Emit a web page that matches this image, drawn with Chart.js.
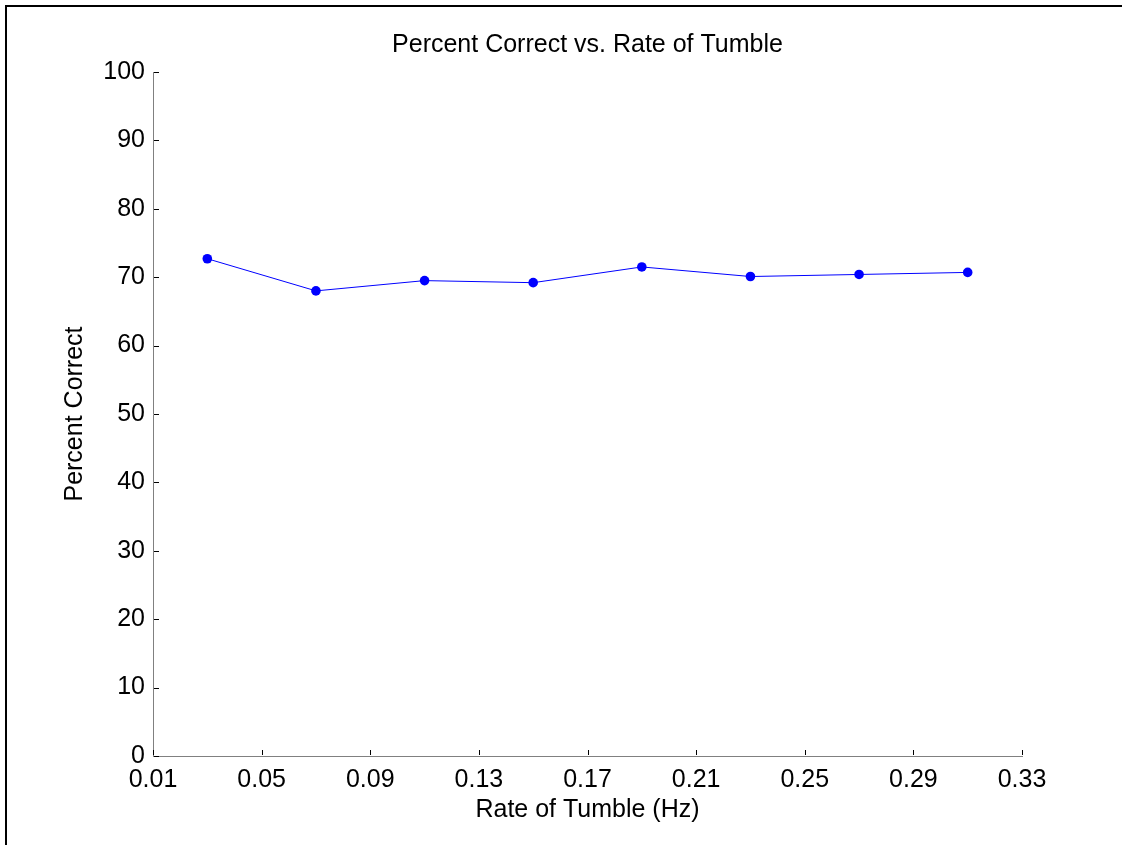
<!DOCTYPE html>
<html>
<head>
<meta charset="utf-8">
<script src="https://cdn.jsdelivr.net/npm/chart.js@4/dist/chart.umd.min.js"></script>
<style>
  html, body { margin: 0; padding: 0; background: #fff; }
  #wrap { position: relative; width: 1122px; height: 845px; }
  #frame { position: absolute; left: 5px; top: 5px; width: 1117px; height: 840px;
           border-left: 2px solid #000; border-top: 2px solid #000; box-sizing: border-box; pointer-events: none; }
  canvas { position: absolute; left: 0; top: 0; }
</style>
</head>
<body>
<div id="wrap">
  <canvas id="c" width="1122" height="845"></canvas>
  <div id="frame"></div>
</div>
<script>
const rates = [0.03, 0.07, 0.11, 0.15, 0.19, 0.23, 0.27, 0.31];
const percentCorrect = [72.7, 68.0, 69.5, 69.2, 71.5, 70.1, 70.4, 70.7];
const xTicks = [0.01, 0.05, 0.09, 0.13, 0.17, 0.21, 0.25, 0.29, 0.33];
const yTicks = [0, 10, 20, 30, 40, 50, 60, 70, 80, 90, 100];

const FONT = "'Liberation Sans', Arial, sans-serif";

const innerTicks = {
  id: 'innerTicks',
  afterDraw(chart) {
    const ctx = chart.ctx;
    const xs = chart.scales.x, ys = chart.scales.y;
    ctx.save();
    ctx.strokeStyle = '#000';
    ctx.lineWidth = 1;
    ctx.beginPath();
    xTicks.forEach(v => {
      const px = Math.round(xs.getPixelForValue(v)) + 0.5;
      ctx.moveTo(px, ys.bottom - 1);
      ctx.lineTo(px, ys.bottom - 6);
    });
    yTicks.forEach(v => {
      const py = Math.round(ys.getPixelForValue(v)) + 0.5;
      ctx.moveTo(xs.left + 1, py);
      ctx.lineTo(xs.left + 6, py);
    });
    ctx.stroke();
    ctx.restore();
  }
};

new Chart(document.getElementById('c'), {
  type: 'line',
  data: {
    datasets: [{
      data: rates.map((r, i) => ({ x: r, y: percentCorrect[i] })),
      borderColor: '#0000ff',
      backgroundColor: '#0000ff',
      borderWidth: 1,
      pointRadius: 4.8,
      pointBorderWidth: 0,
      pointBackgroundColor: '#0000ff',
      tension: 0
    }]
  },
  options: {
    responsive: false,
    animation: false,
    layout: { padding: { left: 0, right: 100, top: 0, bottom: 0 } },
    plugins: {
      legend: { display: false },
      tooltip: { enabled: false },
      title: {
        display: true,
        fullSize: false,
        text: 'Percent Correct vs. Rate of Tumble',
        color: '#000',
        font: { family: FONT, size: 25, weight: 'normal' },
        padding: { top: 30.5, bottom: 11.5 }
      }
    },
    scales: {
      x: {
        type: 'linear',
        min: 0.01,
        max: 0.33,
        afterBuildTicks: s => { s.ticks = xTicks.map(v => ({ value: v })); },
        afterFit: s => { s.height = 89; },
        ticks: {
          color: '#000',
          font: { family: FONT, size: 25 },
          padding: 9,
          maxRotation: 0,
          autoSkip: false,
          callback: v => v.toFixed(2)
        },
        grid: { display: true, drawOnChartArea: false, drawTicks: false },
        border: { display: true, color: '#808080', width: 1 },
        title: {
          display: true,
          text: 'Rate of Tumble (Hz)',
          color: '#000',
          font: { family: FONT, size: 25 },
          padding: { top: 0, bottom: 20 }
        }
      },
      y: {
        type: 'linear',
        min: 0,
        max: 100,
        afterBuildTicks: s => { s.ticks = yTicks.map(v => ({ value: v })); },
        afterFit: s => { s.width = 153; },
        ticks: {
          color: '#000',
          font: { family: FONT, size: 25 },
          padding: 8,
          autoSkip: false
        },
        grid: { display: true, drawOnChartArea: false, drawTicks: false },
        border: { display: true, color: '#808080', width: 1 },
        title: {
          display: true,
          text: 'Percent Correct',
          color: '#000',
          font: { family: FONT, size: 25 },
          padding: { top: 60, bottom: 0 }
        }
      }
    }
  },
  plugins: [innerTicks]
});
</script>
</body>
</html>
